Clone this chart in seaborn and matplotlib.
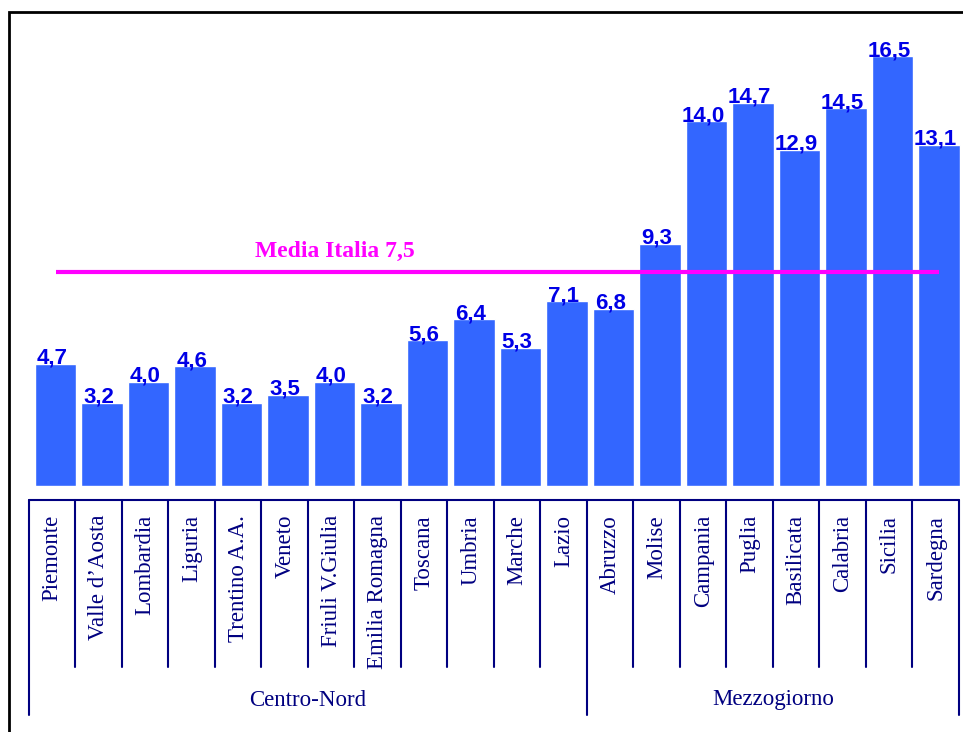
import matplotlib
matplotlib.use("Agg")
import matplotlib.pyplot as plt
import seaborn as sns
from matplotlib.patches import Rectangle

regioni = ["Piemonte", "Valle d\u2019Aosta", "Lombardia", "Liguria", "Trentino A.A.",
           "Veneto", "Friuli V.Giulia", "Emilia Romagna", "Toscana", "Umbria",
           "Marche", "Lazio", "Abruzzo", "Molise", "Campania", "Puglia",
           "Basilicata", "Calabria", "Sicilia", "Sardegna"]
valori = [4.7, 3.2, 4.0, 4.6, 3.2, 3.5, 4.0, 3.2, 5.6, 6.4,
          5.3, 7.1, 6.8, 9.3, 14.0, 14.7, 12.9, 14.5, 16.5, 13.1]
gruppi = ["Centro-Nord", "Mezzogiorno"]
n_gruppo = [12, 8]
media_label = "Media Italia 7,5"
media_linea = 8.2  # level at which the line is drawn in the picture

BAR = "#3366ff"
VAL = "#0000e6"
NAVY = "#000080"
MAGENTA = "#ff00ff"

sns.set_style("white")

W, H = 963, 732
fig = plt.figure(figsize=(W / 100, H / 100), dpi=100)

# axes placed in pixel units
left_px, right_px = 32.25, 962.25
base_px, top_px = 486, 17
ax = fig.add_axes([left_px / W, (H - base_px) / H, (right_px - left_px) / W, (base_px - top_px) / H])

sns.barplot(x=regioni, y=valori, color=BAR, saturation=1, width=0.9, ax=ax)
ax.set_xlim(-0.5, len(regioni) - 0.5)
ax.set_ylim(0, 18)
ax.set_xticks([])
ax.set_yticks([])
ax.set_xlabel("")
ax.set_ylabel("")
for s in ax.spines.values():
    s.set_visible(False)

# value labels
off = 0.07
for i, v in enumerate(valori):
    ax.text(i - off, v, f"{v:.1f}".replace(".", ","), ha="center", va="baseline",
            color=VAL, fontsize=16, fontweight="bold", family="Liberation Sans")

# average line
ax.plot([0, len(regioni) - 1], [media_linea, media_linea], color=MAGENTA, lw=3, solid_capstyle="butt")
ax.text(6, media_linea + 0.6, media_label, ha="center", va="baseline", color=MAGENTA,
        fontsize=17, fontweight="bold", family="Liberation Serif")

# category boxes below the bars
tr = ax.get_xaxis_transform()
axh = base_px - top_px
y_top = -(500 - base_px) / axh
y_sep = -(667 - base_px) / axh
y_grp = -(715 - base_px) / axh
y_lab = -(515 - base_px) / axh
y_gl = -(700 - base_px) / axh

n = len(regioni)
ax.plot([-0.5 - off, n - 0.5 - off], [y_top, y_top], color=NAVY, lw=1.5, transform=tr, clip_on=False)
bounds = [0]
for k in n_gruppo:
    bounds.append(bounds[-1] + k)
for i in range(n + 1):
    x = i - 0.5 - off
    y_end = y_grp if i in bounds else y_sep
    ax.plot([x, x], [y_top, y_end], color=NAVY, lw=1.5, transform=tr, clip_on=False)
for i, r in enumerate(regioni):
    ax.text(i - off, y_lab, r, rotation=90, ha="center", va="top", color=NAVY,
            fontsize=16.5, family="Liberation Serif", transform=tr)
for g, a, b in zip(gruppi, bounds[:-1], bounds[1:]):
    xc = (a + b) / 2 - 0.5 - off
    ax.text(xc, y_gl, g, ha="center", va="center", color=NAVY, fontsize=16.5,
            family="Liberation Serif", transform=tr)

# outer frame
fig.patches.append(Rectangle((9 / W, -0.1), 1.2, (H - 12) / H + 0.1, transform=fig.transFigure,
                             fill=False, edgecolor="black", lw=2))

fig.savefig("out.png", dpi=100)
